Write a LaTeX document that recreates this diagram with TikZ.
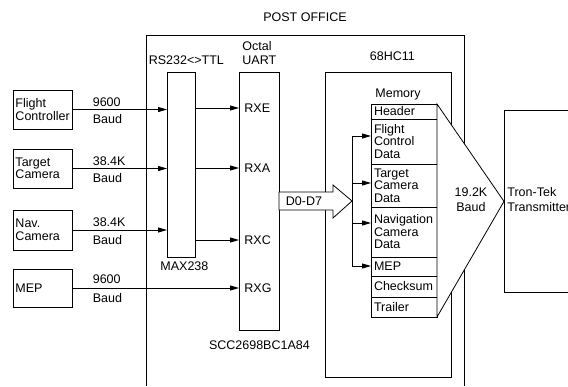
\documentclass[tikz,border=0pt]{standalone}
\usepackage{fontspec}
\setmainfont{Liberation Sans}
\usepackage{tikz}
\usetikzlibrary{arrows.meta,positioning}

\begin{document}
\begin{tikzpicture}[x=1pt, y=-1pt, line width=0.8pt,
    font=\fontsize{12.5}{12.5}\selectfont,
    srcbox/.style={draw, text width=54pt, inner xsep=2.5pt, align=left},
    chip/.style={draw, anchor=north west},
    memrow/.style={draw, outer sep=0pt, text width=60pt, inner xsep=3pt,
                   inner ysep=1pt, align=left},
    lbl/.style={inner sep=0pt},
    sig/.style={-{Triangle[length=9pt,width=5pt]}}]

    % page
    \fill[white] (0,0) rectangle (568,386);
    \useasboundingbox (0,0) rectangle (568,386);

    % post office outline, open at the bottom
    \draw (146,386) -- (146,35) -- (464,35) -- (464,386);
    \node[lbl] (potitle) at (305,17) {POST OFFICE};

    % sources
    \node[srcbox, minimum height=39pt] (fc)  at (42.5,109.5) {Flight\\Controller};
    \node[srcbox, minimum height=39pt] (tc)  at (42.5,168.5) {Target\\Camera};
    \node[srcbox, minimum height=40pt] (nc)  at (42.5,230)   {Nav.\\Camera};
    \node[srcbox, minimum height=38pt] (mep) at (42.5,288)   {MEP};

    % level shifter
    \node[chip, minimum width=28pt, minimum height=185pt] (maxc) at (167,72) {};
    \node[lbl, above=7pt of maxc, xshift=5pt] (rslbl) {RS232<>TTL};
    \node[lbl, below=4pt of maxc, xshift=3pt] (maxlbl) {MAX238};

    % octal uart
    \node[chip, minimum width=40pt, minimum height=258pt] (uart) at (239,72) {};
    \node[lbl, anchor=south west, align=left] (uartlbl)
        at ([xshift=3pt,yshift=7pt]uart.north west) {Octal\\[1.5pt]UART};
    \node[lbl, below=10pt of uart] (scclbl) {SCC2698BC1A84};
    \node[lbl, anchor=west] (rxe) at (244,108) {RXE};
    \node[lbl, anchor=west] (rxa) at (244,168) {RXA};
    \node[lbl, anchor=west] (rxc) at (244,240) {RXC};
    \node[lbl, anchor=west] (rxg) at (244,288) {RXG};

    % serial lines
    \draw[sig] (fc.east) -- (fc.east -| maxc.west);
    \draw[sig] (tc.east) -- (tc.east -| maxc.west);
    \draw[sig] (nc.east) -- (nc.east -| maxc.west);
    \draw[sig] (mep.east) -- (mep.east -| uart.west);
    \draw[sig] (maxc.east |- rxe) -- (uart.west |- rxe);
    \draw[sig] (maxc.east |- rxa) -- (uart.west |- rxa);
    \draw[sig] (maxc.east |- rxc) -- (uart.west |- rxc);

    \node[lbl, anchor=south west] (fcrate) at ([xshift=20pt,yshift=2.5pt]fc.east) {9600};
    \node[lbl, anchor=north west] (fcbaud) at ([xshift=20pt,yshift=-5pt]fc.east) {Baud};
    \node[lbl, anchor=south west] (tcrate) at ([xshift=20pt,yshift=2.5pt]tc.east) {38.4K};
    \node[lbl, anchor=north west] (tcbaud) at ([xshift=20pt,yshift=-5pt]tc.east) {Baud};
    \node[lbl, anchor=south west] (ncrate) at ([xshift=20pt,yshift=2.5pt]nc.east) {38.4K};
    \node[lbl, anchor=north west] (ncbaud) at ([xshift=20pt,yshift=-5pt]nc.east) {Baud};
    \node[lbl, anchor=south west] (meprate) at ([xshift=20pt,yshift=3.5pt]mep.east) {9600};
    \node[lbl, anchor=north west] (mepbaud) at ([xshift=20pt,yshift=-5pt]mep.east) {Baud};

    % 68HC11
    \node[chip, minimum width=126pt, minimum height=305pt] (mcu) at (325,72) {};
    \node[lbl, above=11pt of mcu, xshift=4pt] (mculbl) {68HC11};

    % data bus arrow
    \draw[fill=white] (279,192) -- (333,192) -- (333,185) -- (352,201)
        -- (333,218) -- (333,210) -- (279,210) -- cycle;
    \node[lbl] (dbus) at (304,201) {D0-D7};

    % memory map
    \node[memrow, minimum height=15pt, anchor=north west] (hdr) at (371,104) {Header};
    \node[memrow, minimum height=45pt, below=0pt of hdr]  (fcd)  {Flight\\Control\\Data};
    \node[memrow, minimum height=43pt, below=0pt of fcd]  (tcd)  {Target\\Camera\\Data};
    \node[memrow, minimum height=50pt, below=0pt of tcd]  (ncd)  {Navigation\\Camera\\Data};
    \node[memrow, minimum height=19pt, below=0pt of ncd]  (mepd) {MEP};
    \node[memrow, minimum height=21pt, below=0pt of mepd] (chk)  {Checksum};
    \node[memrow, minimum height=20pt, below=0pt of chk]  (trl)  {Trailer};
    \node[lbl, anchor=south west] (memlbl) at ([xshift=4pt,yshift=3.5pt]hdr.north west) {Memory};

    % bus taps
    \coordinate (tap1) at (352,136);
    \coordinate (tap2) at (352,183);
    \coordinate (tap3) at (352,223);
    \coordinate (tap4) at (352,266);
    \draw (tap1) -- (tap4);
    \draw[sig] (tap1) -- (tap1 -| fcd.west);
    \draw[sig] (tap2) -- (tap2 -| tcd.west);
    \draw[sig] (tap3) -- (tap3 -| ncd.west);
    \draw[sig] (tap4) -- (tap4 -| mepd.west);

    % transmitter and downlink fan
    \node[chip, minimum width=120pt, minimum height=182pt] (tx) at (504,110) {};
    \filldraw[fill=white] (hdr.north east) -- (tx.west) -- (trl.south east) -- cycle;
    \node[lbl, align=center] (outrate) at (471,199.5) {19.2K\\[2.5pt]Baud};
    \node[lbl, anchor=west, align=left] (txlbl) at (507,199.5) {Tron-Tek\\[2.5pt]Transmitter};
\end{tikzpicture}
\end{document}
